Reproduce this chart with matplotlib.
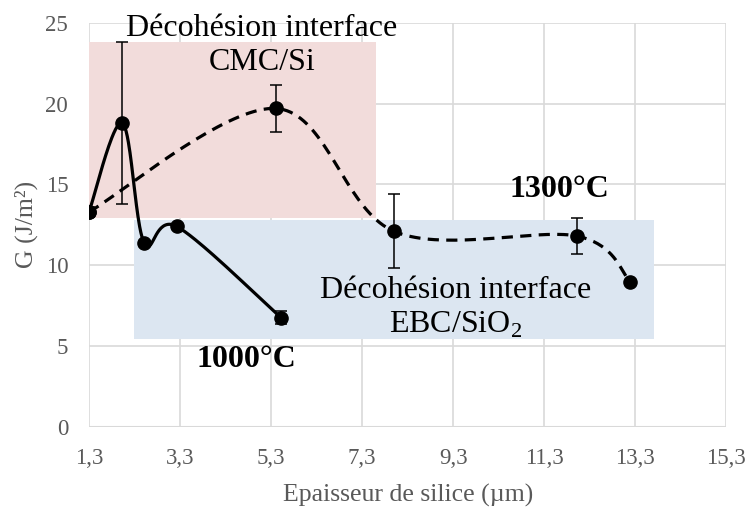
import numpy as np
import matplotlib.pyplot as plt
from matplotlib.patches import Rectangle

plt.rcParams['font.family'] = ['Liberation Serif', 'DejaVu Serif']
plt.rcParams['mathtext.fontset'] = 'custom'
plt.rcParams['mathtext.rm'] = 'Liberation Serif'

# Données 1000°C (ligne continue)
x_1000 = [1.3, 2.03, 2.51, 3.23, 5.52]
g_1000 = [13.3, 18.8, 11.4, 12.4, 6.75]
err_1000 = [0.3, 5.0, 0.0, 0.0, 0.4]

# Données 1300°C (ligne pointillée)
x_1300 = [1.3, 5.41, 8.0, 12.03, 13.19]
g_1300 = [13.3, 19.7, 12.1, 11.8, 8.97]
err_1300 = [0.0, 1.45, 2.3, 1.1, 0.0]

# Zones de décohésion : (x0, x1, y0, y1)
zone_cmc = (1.3, 7.6, 12.9, 23.8)
zone_ebc = (2.29, 13.72, 5.45, 12.8)

xticks = [1.3, 3.3, 5.3, 7.3, 9.3, 11.3, 13.3, 15.3]
yticks = [0, 5, 10, 15, 20, 25]


# Lissage type Excel (Bezier / Catmull-Rom)
def smooth(x, y, n=40):
    p = np.column_stack([x, y]).astype(float)
    p = np.vstack([p[0], p, p[-1]])
    out = []
    for i in range(1, len(p) - 2):
        p0, p1, p2, p3 = p[i - 1], p[i], p[i + 1], p[i + 2]
        c1 = p1 + (p2 - p0) / 6
        c2 = p2 - (p3 - p1) / 6
        t = np.linspace(0, 1, n)[:, None]
        seg = ((1 - t) ** 3 * p1 + 3 * (1 - t) ** 2 * t * c1
               + 3 * (1 - t) * t ** 2 * c2 + t ** 3 * p2)
        out.append(seg)
    c = np.vstack(out)
    return c[:, 0], c[:, 1]


fig = plt.figure(figsize=(7.48, 5.07), dpi=100)
ax = fig.add_axes([0.119, 0.158, 0.852, 0.797])

for (x0, x1, y0, y1), col in [(zone_cmc, '#f2dcdb'), (zone_ebc, '#dce6f1')]:
    ax.add_patch(Rectangle((x0, y0), x1 - x0, y1 - y0, facecolor=col,
                           edgecolor='none', zorder=1))

sx, sy = smooth(x_1000, g_1000)
ax.plot(sx, sy, color='black', lw=2.3, zorder=3)
sx, sy = smooth(x_1300, g_1300)
ax.plot(sx, sy, color='black', lw=2.3, ls=(0, (3.5, 2.3)), zorder=3)

for xs, ys, es in [(x_1000, g_1000, err_1000), (x_1300, g_1300, err_1300)]:
    ax.errorbar(xs, ys, yerr=es, fmt='o', color='black', ms=9.5,
                elinewidth=1.1, capsize=4.5, capthick=1.1, zorder=4)

ax.text(5.1, 23.6, 'Décohésion interface\nCMC/Si', ha='center', va='center',
        fontsize=23, linespacing=1.25, zorder=5)
ax.text(9.35, 7.35, 'Décohésion interface\nEBC/SiO$_\\mathregular{2}$',
        ha='center', va='center', fontsize=23, linespacing=1.2, zorder=5)
ax.text(4.75, 4.15, '1000°C', ha='center', va='center', fontsize=23,
        fontweight='bold', zorder=5)
ax.text(11.63, 14.7, '1300°C', ha='center', va='center', fontsize=23,
        fontweight='bold', zorder=5)

ax.set_xlim(1.3, 15.3)
ax.set_ylim(0, 25)
ax.set_xticks(xticks)
ax.set_xticklabels([str(v).replace('.', ',') for v in xticks])
ax.set_yticks(yticks)
ax.grid(True, color='#d9d9d9', lw=1.2, zorder=0)
ax.set_axisbelow(True)
for s in ax.spines.values():
    s.set_visible(False)
ax.axhline(0, color='#d9d9d9', lw=1.5, zorder=0)
ax.tick_params(length=0, labelsize=16.5, labelcolor='#595959', pad=15)

ax.set_xlabel('Epaisseur de silice (µm)', fontsize=18.5, color='#595959',
              labelpad=11)
ax.set_ylabel('G (J/m²)', fontsize=18.5, color='#595959', labelpad=5)

fig.savefig('out.png', dpi=100)
